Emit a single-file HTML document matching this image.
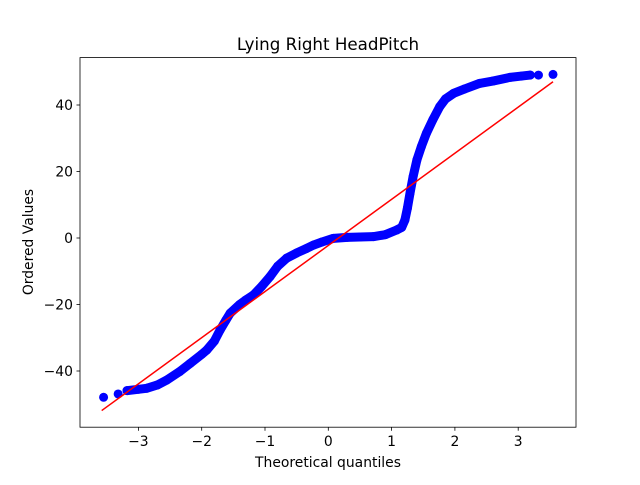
<!DOCTYPE html>
<html><head><meta charset="utf-8"><style>
body{margin:0;background:#fff}
svg text{font-family:"DejaVu Sans","Liberation Sans",sans-serif;font-size:13.9px;fill:#000}
</style></head><body>
<svg id="chart" width="640" height="480" xmlns="http://www.w3.org/2000/svg">
<rect width="640" height="480" fill="#fff"/>
<text x="328" y="50" text-anchor="middle" style="font-size:16.7px">Lying Right HeadPitch</text>
<g id="marks"></g>
<rect x="80" y="57.6" width="496" height="369.6" fill="none" stroke="#000" stroke-width="0.8"/>
<g id="axes"></g>
<text x="328" y="467" text-anchor="middle">Theoretical quantiles</text>
<text transform="translate(33,242) rotate(-90)" text-anchor="middle">Ordered Values</text>
</svg>
<script>
const quantiles=[-3.55,-3.32,-3.18,-3.0,-2.87,-2.7,-2.55,-2.35,-2.18,-2.0,-1.92,-1.8,-1.71,-1.62,-1.55,-1.4,-1.3,-1.18,-1.05,-0.92,-0.8,-0.66,-0.5,-0.35,-0.23,-0.1,0.08,0.3,0.5,0.71,0.9,1.08,1.16,1.21,1.25,1.29,1.34,1.40,1.47,1.55,1.65,1.76,1.85,1.98,2.15,2.39,2.6,2.87,3.05,3.19,3.32,3.55];
const ordered=[-47.9,-46.9,-45.9,-45.5,-45.2,-44.2,-42.7,-40.2,-37.7,-35,-33.7,-31,-27.7,-24.8,-22.6,-20,-18.6,-17.1,-14.5,-11.6,-8.5,-6.1,-4.5,-3.2,-2.1,-1.2,-0.1,0.2,0.3,0.4,1.0,2.4,3.2,5.4,9,13.4,18.5,23.5,27.5,31.5,35.5,39.5,41.8,43.5,44.8,46.5,47.2,48.3,48.7,49,49,49.2];
const fitX=[-3.58,3.55];
const fitY=[-51.9,47.0];
const xTicks=[-3,-2,-1,0,1,2,3];
const yTicks=[-40,-20,0,20,40];
const NS='http://www.w3.org/2000/svg';
function sx(v){return 328.3+v*63.3;}
function sy(v){return 238-v*3.325;}
function mk(t,a){const e=document.createElementNS(NS,t);for(const k in a)e.setAttribute(k,a[k]);return e;}
const marks=document.getElementById('marks'),axes=document.getElementById('axes');
let d='';
for(let i=2;i<quantiles.length-2;i++){d+=(i==2?'M':'L')+sx(quantiles[i])+','+sy(ordered[i]);}
const band=mk('path',{d:d,fill:'none',stroke:'#0000ff','stroke-width':9,'stroke-linejoin':'round','stroke-linecap':'round'});


marks.appendChild(band);
for(let i=0;i<quantiles.length;i++){
 const c=mk('circle',{cx:sx(quantiles[i]),cy:sy(ordered[i]),r:4.5,fill:'#0000ff'});
 
 
 marks.appendChild(c);
}
const fit=mk('line',{x1:sx(fitX[0]),y1:sy(fitY[0]),x2:sx(fitX[1]),y2:sy(fitY[1]),stroke:'#ff0000','stroke-width':1.5});


marks.appendChild(fit);
xTicks.forEach(v=>{
 const x=sx(v);
 const l=mk('line',{x1:x,x2:x,y1:427.2,y2:430.7,stroke:'#000','stroke-width':0.8});
 
 
 axes.appendChild(l);
 const t=mk('text',{x:x,y:446,'text-anchor':'middle'});
 t.textContent=v<0?'\u2212'+(-v):String(v);
 
 
 axes.appendChild(t);
});
yTicks.forEach(v=>{
 const y=sy(v);
 const l=mk('line',{x1:76.5,x2:80,y1:y,y2:y,stroke:'#000','stroke-width':0.8});
 
 
 axes.appendChild(l);
 const t=mk('text',{x:73,y:y+5,'text-anchor':'end'});
 t.textContent=v<0?'\u2212'+(-v):String(v);
 
 
 axes.appendChild(t);
});
</script>
</body></html>
